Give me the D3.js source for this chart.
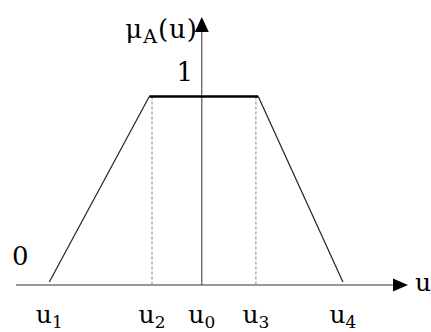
<!DOCTYPE html>
<html>
<head>
<meta charset="utf-8">
<script src="https://cdn.jsdelivr.net/npm/d3@7"></script>
<style>
  body { margin: 0; background: #fff; }
  text { font-family: "DejaVu Serif", "Liberation Serif", serif; fill: #000; }
</style>
</head>
<body>
<div id="chart"></div>
<script>
// universe positions (abstract units along u)
const tickNames = ["1", "2", "0", "3", "4"];
const tickValues = [0.85, 3.47, 4.74, 6.12, 8.34];
const dashedValues = [3.47, 6.12];
// trapezoid membership function
const trapU = [0.85, 3.40, 6.18, 8.34];
const trapMu = [0, 1, 1, 0];

const W = 431, H = 332;

const x = d3.scaleLinear().domain([0, 10]).range([16, 408]);
const y = d3.scaleLinear().domain([0, 1]).range([284, 96.5]);

const svg = d3.select("#chart").append("svg")
    .attr("width", W)
    .attr("height", H);

const axisColor = "#333";

// x axis
svg.append("line")
    .attr("x1", x(0)).attr("x2", x(10) - 12)
    .attr("y1", y(0) + 1).attr("y2", y(0) + 1)
    .attr("stroke", axisColor).attr("stroke-width", 1);
svg.append("path")
    .attr("d", `M${x(10)},${y(0) + 1} L${x(10) - 15},${y(0) - 5.5} L${x(10) - 15},${y(0) + 7.5} Z`)
    .attr("fill", "#000");

// y axis at u0
const x0 = x(tickValues[2]);
svg.append("line")
    .attr("x1", x0).attr("x2", x0)
    .attr("y1", y(0) + 1).attr("y2", 28)
    .attr("stroke", axisColor).attr("stroke-width", 1);
svg.append("path")
    .attr("d", `M${x0},17 L${x0 - 7},32 L${x0 + 7},32 Z`)
    .attr("fill", "#000");

// dashed guides
svg.selectAll(".guide")
    .data(dashedValues)
    .join("line")
    .attr("class", "guide")
    .attr("x1", d => x(d)).attr("x2", d => x(d))
    .attr("y1", y(1)).attr("y2", y(0))
    .attr("stroke", "#888")
    .attr("stroke-width", 1)
    .attr("stroke-dasharray", "3,2");

// trapezoid legs
const pts = trapU.map((u, i) => [x(u), y(trapMu[i])]);
svg.append("line")
    .attr("x1", pts[0][0]).attr("y1", pts[0][1] - 2)
    .attr("x2", pts[1][0]).attr("y2", pts[1][1])
    .attr("stroke", "#222").attr("stroke-width", 1.2);
svg.append("line")
    .attr("x1", pts[2][0]).attr("y1", pts[2][1])
    .attr("x2", pts[3][0]).attr("y2", pts[3][1] - 2)
    .attr("stroke", "#222").attr("stroke-width", 1.2);
// top plateau
svg.append("line")
    .attr("x1", pts[1][0]).attr("y1", pts[1][1])
    .attr("x2", pts[2][0]).attr("y2", pts[2][1])
    .attr("stroke", "#000").attr("stroke-width", 2.5);

// tick labels u_i
const labels = svg.selectAll(".tlab")
    .data(tickValues)
    .join("text")
    .attr("class", "tlab")
    .attr("x", d => x(d))
    .attr("y", 323)
    .attr("text-anchor", "middle")
    .style("font-size", "25px");
labels.append("tspan").text("u");
labels.append("tspan")
    .attr("dy", 5)
    .style("font-size", "17px")
    .text((d, i) => tickNames[i]);

// "u" axis label
svg.append("text")
    .attr("x", 415).attr("y", 291)
    .style("font-size", "25px")
    .text("u");

// mu_A(u) label
const muLab = svg.append("text")
    .attr("x", 198).attr("y", 38)
    .attr("text-anchor", "end")
    .style("font-size", "26px")
    .style("letter-spacing", "1px");
muLab.append("tspan").text("μ");
muLab.append("tspan").attr("dy", 5).style("font-size", "19px").text("A");
muLab.append("tspan").attr("dy", -5).text("(u)");

// 1 and 0
svg.append("text")
    .attr("x", 193).attr("y", 81)
    .attr("text-anchor", "end")
    .style("font-size", "26px")
    .text("1");
svg.append("text")
    .attr("x", 12).attr("y", 265)
    .style("font-size", "26px")
    .text("0");
</script>
</body>
</html>
